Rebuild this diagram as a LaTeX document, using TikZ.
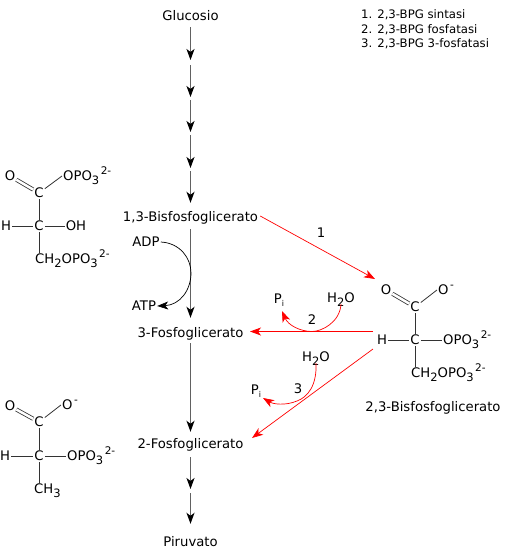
\documentclass[tikz,border=0pt]{standalone}
\usepackage{fontspec}
\setmainfont{DejaVu Sans}
\usetikzlibrary{arrows.meta}
\newcommand{\sbs}[1]{\smash{\raisebox{-3.5pt}{\fontsize{11.5}{12}\selectfont #1}}}
\newcommand{\sbi}[1]{\smash{\raisebox{-3pt}{\fontsize{8}{9}\selectfont #1}}}
\newcommand{\sps}[1]{\smash{\raisebox{6.5pt}{\kern1.5pt\fontsize{10.5}{12}\selectfont #1}}}

\begin{document}
\begin{tikzpicture}[
    x=1pt, y=-1pt,
    font=\fontsize{13.2}{15}\selectfont,
    >={Stealth[length=11pt,width=8pt,inset=3pt]},
    atom/.style={inner sep=1pt},
    step name/.style={inner sep=2pt, text height=12pt, text depth=1pt},
    path/.style={-{Stealth[length=11pt,width=8pt,inset=3pt,color=black]}, draw=black!62, line width=1.4pt},
    redthin/.style={->, draw=red, line width=0.7pt},
    redthick/.style={->, draw=red, line width=1.1pt},
    bond/.style={draw=black!80, line width=0.8pt},
]
\useasboundingbox (0,0) rectangle (509,555);

%% ---- main pathway ----
\node[step name] (glu)   at (190.5,15)  {Glucosio};
\coordinate (s1) at (190.5,62.5);
\coordinate (s2) at (190.5,98.5);
\coordinate (s3) at (190.5,133.5);
\coordinate (s4) at (190.5,169.5);
\node[step name] (bpg13) at (190.5,216) {1,3-Bisfosfoglicerato};
\node[step name] (pg3)   at (190.5,332) {3-Fosfoglicerato};
\node[step name] (pg2)   at (190.5,443) {2-Fosfoglicerato};
\coordinate (s5) at (190.5,491);
\node[step name] (pyr)   at (190.5,541) {Piruvato};

\draw[path, shorten <=3.5pt, shorten >=2.5pt] (glu) -- (s1);
\draw[path, shorten <=2.5pt, shorten >=1.5pt] (s1) -- (s2);
\draw[path, shorten <=1.5pt, shorten >=1.5pt] (s2) -- (s3);
\draw[path, shorten <=1.5pt, shorten >=1.5pt] (s3) -- (s4);
\draw[path, shorten <=1.5pt, shorten >=4.5pt] (s4) -- (bpg13);
\draw[path, shorten <=4.5pt, shorten >=5.5pt] (bpg13) -- (pg3);
\draw[path, shorten <=2.5pt, shorten >=2.5pt] (pg3) -- (pg2);
\draw[path, shorten <=5.5pt, shorten >=2pt] (pg2) -- (s5);
\draw[path, shorten <=2pt, shorten >=8.5pt] (s5) -- (pyr);

%% ---- enzymes ----
\node[anchor=north west, inner sep=0pt, align=left,
      font=\fontsize{11.7}{14.5}\selectfont] (enz) at (361,9.5)
    {1. 2,3-BPG sintasi\\2. 2,3-BPG fosfatasi\\3. 2,3-BPG 3-fosfatasi};

%% ---- ADP / ATP ----
\node[atom] (adp) at (146,242) {ADP};
\node[atom] (atp) at (144,306) {ATP};
\draw[->, draw=black, line width=0.7pt] (adp.east) .. controls (180,243) and (191,258) .. (191,273)
    .. controls (191,290) and (180,305) .. (atp.east);

%% ---- 2,3-BPG and the red branch ----
\node[atom] (o4)  at (386,290) {O};
\node[atom] (c5)  at (415,307) {C};
\node[atom] (o5)  at (446,290) {O\sps{-}};
\node[atom] (c6)  at (415,340) {C};
\node[atom] (h3)  at (382,340) {H};
\node[atom, anchor=west] (op3) at (442,340) {OPO\sbs{3}\sps{2-}};
\node[atom, anchor=west] (ch3) at (410,373) {CH\sbs{2}OPO\sbs{3}\sps{2-}};
\node[step name] (bpg23) at (433,406) {2,3-Bisfosfoglicerato};
\draw[bond, double, double distance=2.5pt] (o4) -- (c5);
\draw[bond] (c5) -- (o5.west);
\draw[bond] (c5) -- (c6);
\draw[bond] (h3) -- (c6);
\draw[bond] (c6) -- (op3);
\draw[bond] (c6) -- (c6 |- ch3.north);

\coordinate (r1) at (375,279);
\coordinate (r2) at (373,331.5);
\coordinate (r3) at (373,349);
\coordinate (t2) at (250,331.5);
\coordinate (t3) at (252,438);
\node[inner sep=0pt] (n1) at (321,233) {1};
\node[inner sep=0pt] (n2) at (312,320) {2};
\node[inner sep=0pt] (n3) at (298,389) {3};
\node[atom] (w2) at (341,298) {H\sbs{2}O};
\node[atom] (p2) at (279,299) {P\sbi{i}};
\node[atom] (w3) at (316,357) {H\sbs{2}O};
\node[atom] (p3) at (256,390) {P\sbi{i}};
\draw[redthin]  (bpg13.east) -- (r1);
\draw[redthick] (r2) -- (t2);
\draw[redthin]  (r3) -- (t3);
\draw[redthin]  (w2.south) .. controls (340,322) and (322,331.5) .. (312,331.5)
    .. controls (300,331.5) and (288,325) .. (282,311);
\draw[redthin]  (w3.south) .. controls (317,385) and (308,397) .. (297,401)
    .. controls (285,406) and (273,404) .. (263,398);

%% ---- left structure: 1,3-BPG ----
\node[atom] (o1)  at (10,176)  {O};
\node[atom] (c1)  at (39,193)  {C};
\node[atom, anchor=west] (op1) at (62,176) {OPO\sbs{3}\sps{2-}};
\node[atom] (c2)  at (39,226)  {C};
\node[atom] (h1)  at (6,226)   {H};
\node[atom] (oh1) at (76,226)  {OH};
\node[atom, anchor=west] (ch1) at (34,259) {CH\sbs{2}OPO\sbs{3}\sps{2-}};
\draw[bond, double, double distance=2.5pt] (o1) -- (c1);
\draw[bond] (c1) -- (op1.west);
\draw[bond] (c1) -- (c2);
\draw[bond] (h1) -- (c2);
\draw[bond] (c2) -- (oh1);
\draw[bond] (c2) -- (c2 |- ch1.north);

%% ---- left structure: 2-PG ----
\node[atom] (o2)  at (10,406)  {O};
\node[atom] (c3)  at (39,422)  {C};
\node[atom] (o3)  at (70,405)  {O\sps{-}};
\node[atom] (c4)  at (39,456)  {C};
\node[atom] (h2)  at (5,456)   {H};
\node[atom, anchor=west] (op2) at (66,456) {OPO\sbs{3}\sps{2-}};
\node[atom, anchor=west] (me)  at (33,489) {CH\sbs{3}};
\draw[bond, double, double distance=2.5pt] (o2) -- (c3);
\draw[bond] (c3) -- (o3.west);
\draw[bond] (c3) -- (c4);
\draw[bond] (h2) -- (c4);
\draw[bond] (c4) -- (op2);
\draw[bond] (c4) -- (c4 |- me.north);

\end{tikzpicture}
\end{document}
